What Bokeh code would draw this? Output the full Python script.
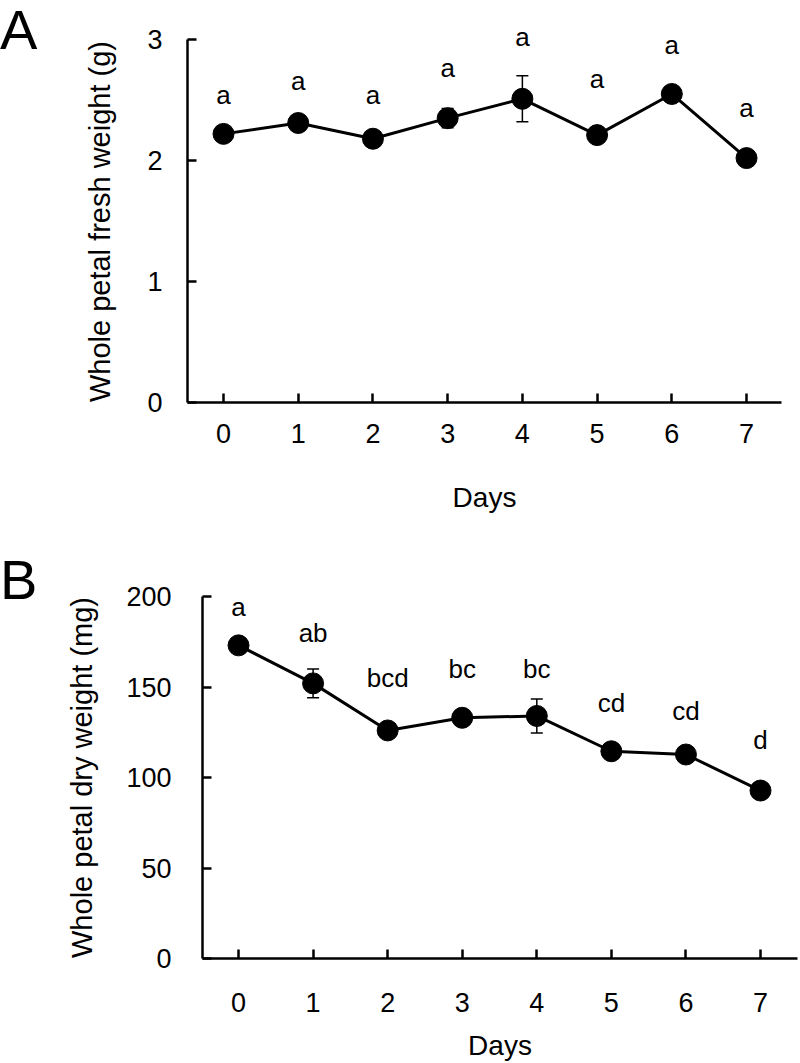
from bokeh.plotting import figure
from bokeh.models import (ColumnDataSource, Whisker, TeeHead, LabelSet, Div,
                          FixedTicker, Range1d)
from bokeh.layouts import column, row
from bokeh.core.properties import value
from bokeh.embed import file_html
from bokeh.resources import INLINE

# ---------------- data ----------------
days = [0, 1, 2, 3, 4, 5, 6, 7]

fresh_mean = [2.22, 2.31, 2.18, 2.35, 2.51, 2.21, 2.55, 2.02]
fresh_err = [0.03, 0.05, 0.03, 0.08, 0.19, 0.03, 0.04, 0.03]
fresh_letters = ["a", "a", "a", "a", "a", "a", "a", "a"]
fresh_letter_y = [2.47, 2.58, 2.47, 2.69, 2.95, 2.60, 2.88, 2.36]
fresh_yticks = [0, 1, 2, 3]

dry_mean = [173, 152, 126, 133, 134, 114.5, 112.7, 92.8]
dry_err = [3, 8, 3, 4, 9.4, 3, 4, 3]
dry_letters = ["a", "ab", "bcd", "bc", "bc", "cd", "cd", "d"]
dry_letter_y = [189.5, 174.6, 150, 154.7, 154.7, 136, 131.5, 115.5]
dry_yticks = [0, 50, 100, 150, 200]

FONT = "Liberation Sans"
NBSP = "\u00a0"


def make_panel(mean, err, letters, letter_y, yticks, ymax, yext, ylabel,
               width, height, bl, br, bt, bb, xr, ytick_standoff,
               ylabel_standoff, xtick_standoff, xlabel_standoff):
    p = figure(width=width, height=height, x_range=Range1d(*xr),
               y_range=Range1d(0, yext), toolbar_location=None,
               output_backend="svg", min_border_left=bl, min_border_right=br,
               min_border_top=bt, min_border_bottom=bb)
    p.outline_line_color = None
    p.xgrid.visible = False
    p.ygrid.visible = False

    src = ColumnDataSource(dict(
        x=days, y=mean,
        upper=[m + e for m, e in zip(mean, err)],
        lower=[m - e for m, e in zip(mean, err)],
        ly=letter_y, t=letters))

    w = Whisker(source=src, base="x", upper="upper", lower="lower",
                line_width=1.5, line_color="black",
                upper_head=TeeHead(size=12, line_width=1.5, line_color="black"),
                lower_head=TeeHead(size=12, line_width=1.5, line_color="black"))
    p.add_layout(w)
    p.line("x", "y", source=src, line_width=3, line_color="black")
    p.scatter("x", "y", source=src, size=21, marker="circle",
              fill_color="black", line_color="black")

    ls = LabelSet(x="x", y="ly", text="t", source=src, text_align="center",
                  text_baseline="alphabetic", text_font=value(FONT),
                  text_font_size="26px", text_color="black")
    p.add_layout(ls)

    p.xaxis.ticker = FixedTicker(ticks=days)
    p.yaxis.ticker = FixedTicker(ticks=yticks)
    p.yaxis.bounds = (0, ymax)
    for ax in (p.xaxis[0], p.yaxis[0]):
        ax.axis_line_width = 2.5
        ax.axis_line_color = "black"
        ax.major_tick_line_width = 2.5
        ax.major_tick_line_color = "black"
        ax.major_tick_in = 9
        ax.major_tick_out = 0
        ax.minor_tick_line_color = None
        ax.major_label_text_font = FONT
        ax.major_label_text_font_size = "27px"
        ax.major_label_text_color = "black"
        ax.axis_label_text_font = FONT
        ax.axis_label_text_font_style = "normal"
        ax.axis_label_text_color = "black"
    p.xaxis.axis_label = "Days"
    p.xaxis.axis_label_text_font_size = "28px"
    p.xaxis.major_label_standoff = xtick_standoff
    p.xaxis.axis_label_standoff = xlabel_standoff
    p.yaxis.axis_label = ylabel
    p.yaxis.axis_label_text_font_size = "29px"
    p.yaxis.major_label_standoff = ytick_standoff
    p.yaxis.axis_label_standoff = ylabel_standoff
    return p


def letter_div(txt, height, line_height):
    return Div(text=txt, width=50, height=height,
               styles={"font-family": FONT, "font-size": "56px",
                       "line-height": line_height, "color": "black",
                       "margin": "0", "padding": "0"})


pa = make_panel(fresh_mean, fresh_err, fresh_letters, fresh_letter_y,
                fresh_yticks, 3, 3.124,
                "Whole petal fresh weight (g)" + NBSP * 2,
                750, 550, 137, 19, 24, 148, (-0.482, 7.468), 25, 28, 21, 36)
pb = make_panel(dry_mean, dry_err, dry_letters, dry_letter_y,
                dry_yticks, 200, 200, "Whole petal dry weight (mg)",
                750, 513, 152, 3, 46, 105, (-0.483, 7.496), 31, 25, 34, 15)

da = letter_div("A", 550, "60px")
db = letter_div("B", 513, "60px")

layout = column(row(da, pa, spacing=0), row(db, pb, spacing=0), spacing=0)
open("out.html", "w").write(file_html(layout, INLINE))
